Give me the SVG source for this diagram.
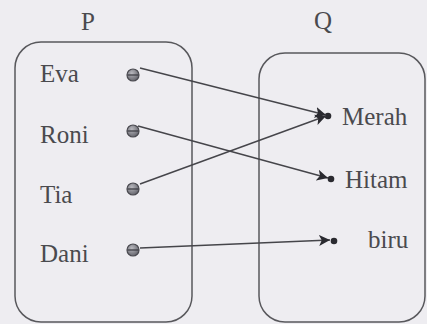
<svg xmlns="http://www.w3.org/2000/svg" width="427" height="324" viewBox="0 0 427 324">
<style>
.lbl{font-family:"Liberation Serif","Times New Roman",serif;font-size:25px;fill:#4a4a4e}
.set{fill:none;stroke:#58585c;stroke-width:1.5}
.src{fill:url(#g);stroke:#4a4a50;stroke-width:1.2}
.bar{stroke:#3a3a40;stroke-width:1.2}
.dst{fill:#2a2a30}
.edge{stroke:#45454a;stroke-width:1.4;fill:none;marker-end:url(#ah)}
</style>
<defs>
<radialGradient id="g" cx="0.4" cy="0.35" r="0.7">
<stop offset="0" stop-color="#b8b8be"/>
<stop offset="1" stop-color="#606068"/>
</radialGradient>
<marker id="ah" viewBox="0 0 10 10" refX="10" refY="5" markerWidth="11" markerHeight="11" markerUnits="userSpaceOnUse" orient="auto">
<path d="M0,0 L10,5 L0,10 L2.5,5 Z" fill="#2a2a30"/>
</marker>
</defs>
<rect width="427" height="324" fill="#eeedf1"/>
<g id="P">
<text class="lbl" x="88" y="30" text-anchor="middle">P</text>
<rect class="set" x="15" y="42" width="177" height="280" rx="26"/>
</g>
<g id="Q">
<text class="lbl" x="323" y="29" text-anchor="middle">Q</text>
<rect class="set" x="259" y="53" width="166" height="269" rx="26"/>
</g>
<g id="Eva"><text class="lbl" x="40" y="82">Eva</text><circle class="src" cx="133" cy="75" r="6"/><line class="bar" x1="127.5" y1="75" x2="138.5" y2="75"/></g>
<g id="Roni"><text class="lbl" x="40" y="143">Roni</text><circle class="src" cx="133" cy="131" r="6"/><line class="bar" x1="127.5" y1="131" x2="138.5" y2="131"/></g>
<g id="Tia"><text class="lbl" x="40" y="203">Tia</text><circle class="src" cx="133" cy="189" r="6"/><line class="bar" x1="127.5" y1="189" x2="138.5" y2="189"/></g>
<g id="Dani"><text class="lbl" x="40" y="262">Dani</text><circle class="src" cx="133" cy="250" r="6"/><line class="bar" x1="127.5" y1="250" x2="138.5" y2="250"/></g>
<g id="Merah"><circle class="dst" cx="328" cy="116" r="3.3"/><text class="lbl" x="342" y="125">Merah</text></g>
<g id="Hitam"><circle class="dst" cx="331" cy="179" r="3.3"/><text class="lbl" x="345" y="188">Hitam</text></g>
<g id="biru"><circle class="dst" cx="334" cy="241" r="3.3"/><text class="lbl" x="368" y="248">biru</text></g>
<g id="connectors">
<line class="edge" x1="140" y1="68" x2="326" y2="115"/>
<line class="edge" x1="138" y1="126" x2="328" y2="178"/>
<line class="edge" x1="140" y1="184" x2="326" y2="116"/>
<line class="edge" x1="140" y1="248" x2="330" y2="240"/>
</g>
</svg>
